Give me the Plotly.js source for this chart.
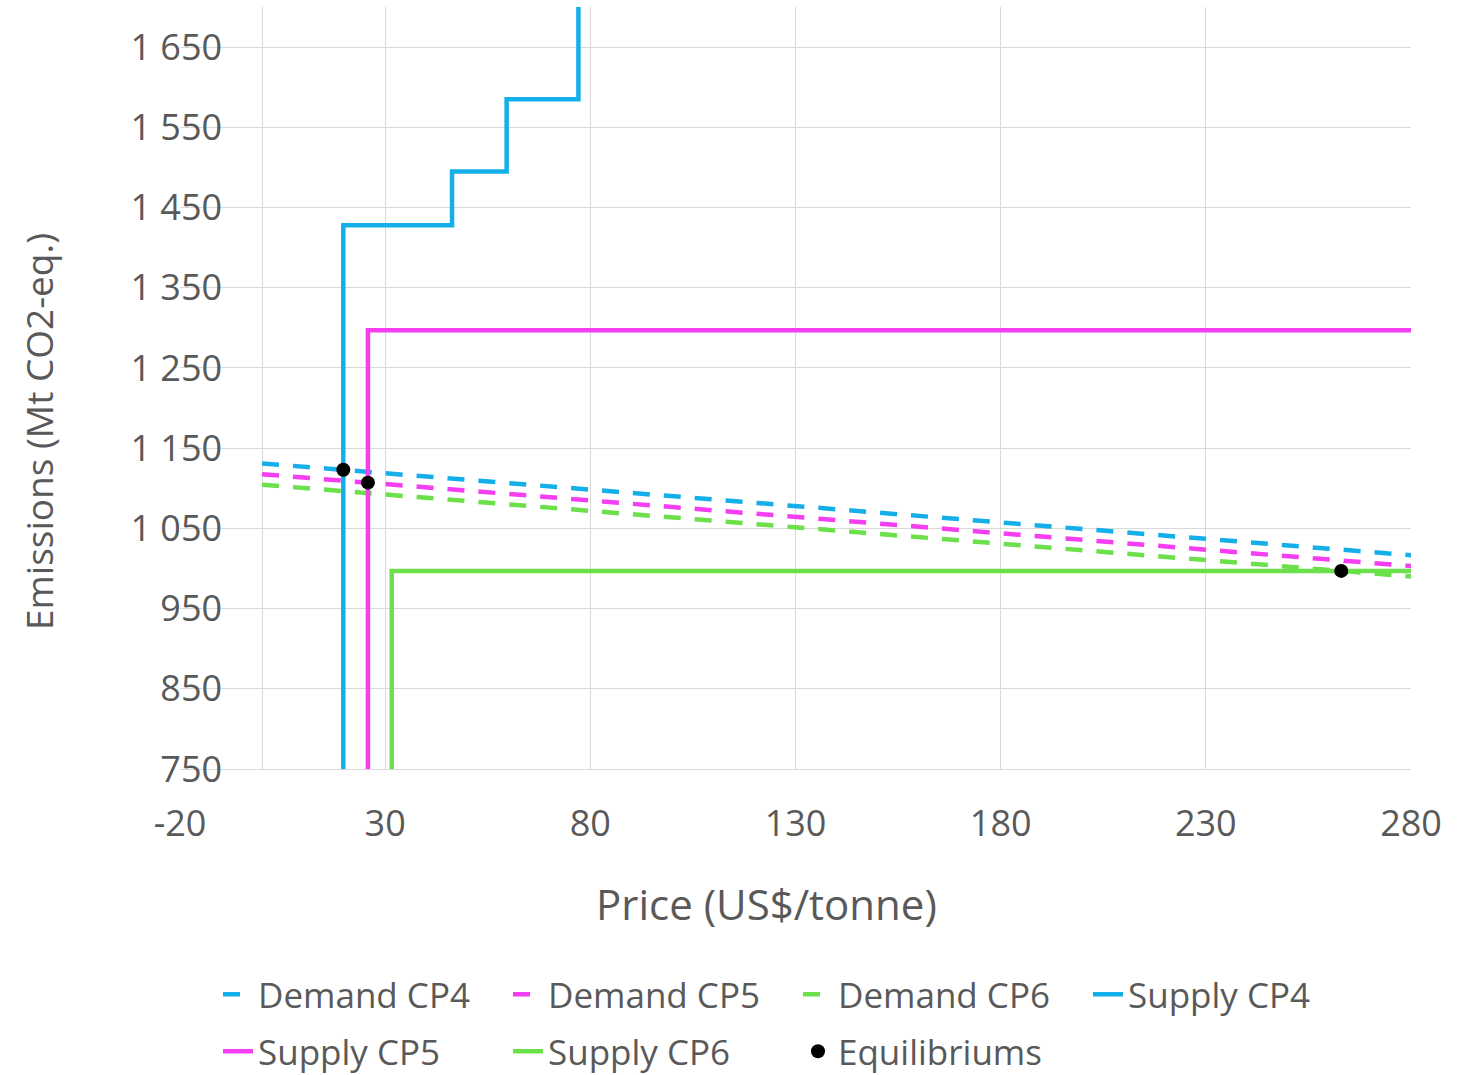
<!DOCTYPE html>
<html><head><meta charset="utf-8">
<script src="https://cdn.plot.ly/plotly-3.0.1.min.js"></script>
<style>html,body{margin:0;padding:0;background:#fff}</style>
</head><body>
<div id="chart" style="width:1471px;height:1075px"></div>
<script>
// ---- data ----
const priceRange = [-20, 280];
const emissionsRange = [750, 1700];
const xTickVals = [-20, 30, 80, 130, 180, 230, 280];
const xTickText = ['-20', '30', '80', '130', '180', '230', '280'];
const yTickVals = [750, 850, 950, 1050, 1150, 1250, 1350, 1450, 1550, 1650];

const demandPrice = [0, 280];
const demandCP4 = [1131, 1016.5];
const demandCP5 = [1117.5, 1003];
const demandCP6 = [1104.5, 990];

const supplyCP4Price = [19.8, 46.3, 59.6, 77.1, 77.1];
const supplyCP4Emis = [750, 1428, 1495, 1585, 1700];
const supplyCP5Price = [25.8, 280];
const supplyCP5Emis = [750, 1297];
const supplyCP6Price = [31.6, 280];
const supplyCP6Emis = [750, 997];

const equilibriumPrice = [19.8, 25.8, 263];
const equilibriumEmis = [1123, 1107, 997];

const xTitle = 'Price (US$/tonne)';
const yTitle = 'Emissions (Mt CO2-eq.)';

// ---- styles ----
const BLUE = '#14AFE8', MAGENTA = '#F53EF2', GREEN = '#6BE04A';
const FONT = 'Open Sans, Noto Sans, sans-serif';
const TXT = '#595959';
const GRID = '#d9d9d9';
const DASH = '17px,14px';
const LW = 4.5;

const traces = [
  {x: demandPrice, y: demandCP4, name: 'Demand CP4', mode: 'lines', legend: 'legend',
   line: {color: BLUE, width: LW, dash: DASH}},
  {x: demandPrice, y: demandCP5, name: 'Demand CP5', mode: 'lines', legend: 'legend',
   line: {color: MAGENTA, width: LW, dash: DASH}},
  {x: demandPrice, y: demandCP6, name: 'Demand CP6', mode: 'lines', legend: 'legend',
   line: {color: GREEN, width: LW, dash: DASH}},
  {x: supplyCP4Price, y: supplyCP4Emis, name: 'Supply CP4', mode: 'lines', legend: 'legend',
   line: {color: BLUE, width: LW, shape: 'vh'}},
  {x: supplyCP5Price, y: supplyCP5Emis, name: 'Supply CP5', mode: 'lines', legend: 'legend2',
   line: {color: MAGENTA, width: LW, shape: 'vh'}},
  {x: supplyCP6Price, y: supplyCP6Emis, name: 'Supply CP6', mode: 'lines', legend: 'legend2',
   line: {color: GREEN, width: LW, shape: 'vh'}},
  {x: equilibriumPrice, y: equilibriumEmis, name: 'Equilibriums', mode: 'markers', legend: 'legend2',
   marker: {color: '#000000', size: 14}}
];

const plotW = 1231, plotH = 762;
const legendFont = {family: FONT, size: 35, color: TXT};

const layout = {
  width: 1471, height: 1075,
  margin: {l: 180, r: 60, t: 7, b: 306, autoexpand: false},
  paper_bgcolor: '#ffffff', plot_bgcolor: '#ffffff',
  separators: '. ',
  font: {family: FONT, color: TXT},
  showlegend: true,
  xaxis: {
    range: priceRange, tickmode: 'array', tickvals: xTickVals, ticktext: xTickText,
    showgrid: true, gridcolor: GRID, gridwidth: 1,
    zeroline: true, zerolinecolor: GRID, zerolinewidth: 1,
    showline: true, linecolor: GRID, linewidth: 1,
    ticks: '', ticklabelstandoff: 23,
    tickfont: {family: FONT, size: 36, color: TXT}
  },
  yaxis: {
    range: emissionsRange, tickmode: 'array', tickvals: yTickVals,
    separatethousands: true,
    anchor: 'free', position: (0 - priceRange[0]) / (priceRange[1] - priceRange[0]),
    showgrid: true, gridcolor: GRID, gridwidth: 1,
    zeroline: false, showline: false,
    ticks: '', ticklabelstandoff: 40,
    tickfont: {family: FONT, size: 36, color: TXT}
  },
  annotations: [
    {text: xTitle, xref: 'paper', yref: 'paper', x: (766 - 180) / plotW, y: -(903 - 769) / plotH,
     xanchor: 'center', yanchor: 'middle', showarrow: false,
     font: {family: FONT, size: 42, color: TXT}},
    {text: yTitle, xref: 'paper', yref: 'paper', x: (38 - 180) / plotW, y: (769 - 432) / plotH,
     xanchor: 'center', yanchor: 'middle', showarrow: false, textangle: -90,
     font: {family: FONT, size: 37, color: TXT}}
  ],
  legend: {
    orientation: 'h', xref: 'paper', yref: 'paper',
    x: 38 / plotW, xanchor: 'left', y: -196 / plotH, yanchor: 'top',
    entrywidth: 245, entrywidthmode: 'pixels',
    font: legendFont, bgcolor: 'rgba(0,0,0,0)', itemclick: false
  },
  legend2: {
    orientation: 'h', xref: 'paper', yref: 'paper',
    x: 38 / plotW, xanchor: 'left', y: -253 / plotH, yanchor: 'top',
    entrywidth: 245, entrywidthmode: 'pixels',
    font: legendFont, bgcolor: 'rgba(0,0,0,0)', itemclick: false
  }
};

Plotly.newPlot('chart', traces, layout, {staticPlot: true, displayModeBar: false});
</script>
</body></html>
